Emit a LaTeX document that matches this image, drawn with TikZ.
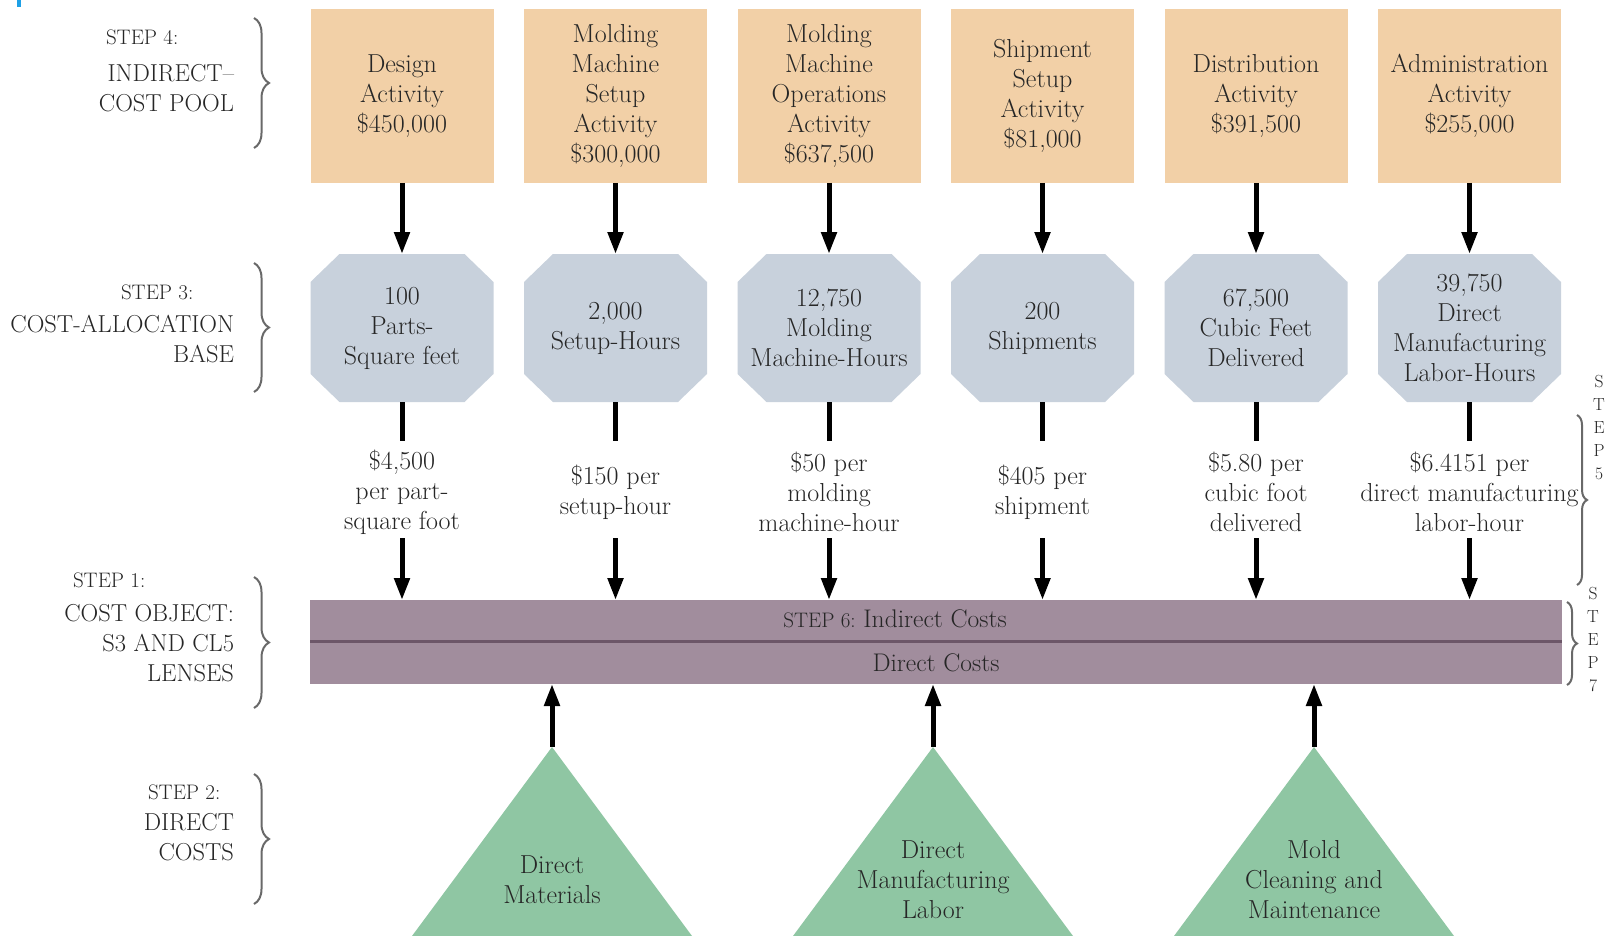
\documentclass[tikz,border=0pt]{standalone}
\usetikzlibrary{arrows.meta,decorations.pathreplacing,calc}
\definecolor{poolc}{RGB}{242,208,167}
\definecolor{basec}{RGB}{200,209,220}
\definecolor{barc}{RGB}{161,141,157}
\definecolor{divc}{RGB}{108,86,104}
\definecolor{trc}{RGB}{143,198,163}
\definecolor{txtc}{RGB}{38,38,38}
\definecolor{bracec}{RGB}{105,105,105}
\definecolor{markc}{RGB}{30,160,230}
\begin{document}
\begin{tikzpicture}[x=1pt,y=-1pt,
 every node/.style={text=txtc, inner sep=0pt, outer sep=0pt},
 body/.style={font=\fontsize{26}{30}\selectfont, align=center},
 poolbox/.style={body, fill=poolc, minimum width=183pt, minimum height=174pt},
 allocbox/.style={body, minimum width=183pt, minimum height=148pt,
   path picture={\fill[basec]
     ([xshift=29pt]path picture bounding box.north west) --
     ([xshift=-29pt]path picture bounding box.north east) --
     ([yshift=-28pt]path picture bounding box.north east) --
     ([yshift=28pt]path picture bounding box.south east) --
     ([xshift=-29pt]path picture bounding box.south east) --
     ([xshift=29pt]path picture bounding box.south west) --
     ([yshift=28pt]path picture bounding box.south west) --
     ([yshift=-28pt]path picture bounding box.north west) -- cycle;}},
 ratetext/.style={body},
 tritext/.style={body},
 leftlab/.style={font=\fontsize{24.5}{30}\selectfont, align=right, anchor=east},
 steplab/.style={font=\fontsize{21}{30}\selectfont, anchor=west},
 steplet/.style={font=\fontsize{17.5}{23}\selectfont, align=center},
 arr/.style={line width=5pt, -{Triangle[length=22pt,width=15pt]}},
 thickline/.style={line width=5pt},
 bracestyle/.style={bracec, line width=2pt, decorate},
]
\useasboundingbox (0,0) rectangle (1608,936);
\fill[white] (0,0) rectangle (1608,936);
\fill[markc] (17,0) rectangle (21,7);

% left labels
\node[steplab] (l4a) at (106,37) {STEP 4:};
\node[leftlab] (l4b) at (234,88) {INDIRECT--\\COST POOL};
\draw[bracestyle, decoration={brace,amplitude=15pt}] (254,18) -- (254,148);

\node[steplab] (l3a) at (121,292) {STEP 3:};
\node[leftlab] (l3b) at (234,339) {COST-ALLOCATION\\BASE};
\draw[bracestyle, decoration={brace,amplitude=15pt}] (254,263) -- (254,392);

\node[steplab] (l1a) at (73,580) {STEP 1:};
\node[leftlab] (l1b) at (234,643) {COST OBJECT:\\S3 AND CL5\\LENSES};
\draw[bracestyle, decoration={brace,amplitude=15pt}] (254,577) -- (254,708);

\node[steplab] (l2a) at (148,792) {STEP 2:};
\node[leftlab] (l2b) at (234,837) {DIRECT\\COSTS};
\draw[bracestyle, decoration={brace,amplitude=15pt}] (254,774) -- (254,904);

% pools
\node[poolbox] (p1) at (402,96) {Design\\Activity\\\$450,000};
\node[poolbox] (p2) at (615.5,96) {Molding\\Machine\\Setup\\Activity\\\$300,000};
\node[poolbox] (p3) at (829,96) {Molding\\Machine\\Operations\\Activity\\\$637,500};
\node[poolbox] (p4) at (1042.5,96) {Shipment\\Setup\\Activity\\\$81,000};
\node[poolbox] (p5) at (1256,96) {Distribution\\Activity\\\$391,500};
\node[poolbox] (p6) at (1469.5,96) {Administration\\Activity\\\$255,000};

% allocation bases
\node[allocbox] (a1) at (402,328) {100\\Parts-\\Square feet};
\node[allocbox] (a2) at (615.5,328) {2,000\\Setup-Hours};
\node[allocbox] (a3) at (829,328) {12,750\\Molding\\Machine-Hours};
\node[allocbox] (a4) at (1042.5,328) {200\\Shipments};
\node[allocbox] (a5) at (1256,328) {67,500\\Cubic Feet\\Delivered};
\node[allocbox] (a6) at (1469.5,328) {39,750\\Direct\\Manufacturing\\Labor-Hours};

% rates
\node[ratetext] (r1) at (402,492) {\$4,500\\per part-\\square foot};
\node[ratetext] (r2) at (615.5,492) {\$150 per\\setup-hour};
\node[ratetext] (r3) at (829,492) {\$50 per\\molding\\machine-hour};
\node[ratetext] (r4) at (1042.5,492) {\$405 per\\shipment};
\node[ratetext] (r5) at (1256,492) {\$5.80 per\\cubic foot\\delivered};
\node[ratetext] (r6) at (1469.5,492) {\$6.4151 per\\direct manufacturing\\labor-hour};

% cost object bar
\node[fill=barc, minimum width=1252pt, minimum height=84pt] (bar) at (936,642) {};
\draw[divc, line width=3pt] (bar.west |- 0,641) coordinate (dw) -- (bar.east |- 0,641) coordinate (de);
\node[font=\fontsize{25.5}{30}\selectfont] (ind) at (895,619) {{\fontsize{21}{30}\selectfont STEP 6:}\ Indirect Costs};
\node[font=\fontsize{25.5}{30}\selectfont] (dir) at (936,663) {Direct Costs};

\foreach \i/\x in {1/402,2/615.5,3/829,4/1042.5,5/1256,6/1469.5}{
  \coordinate (e\i) at (\x,441);
  \coordinate (s\i) at (\x,538);
  \draw[arr] (p\i) -- (a\i);
  \draw[thickline] (a\i) -- (e\i);
  \draw[arr] (s\i) -- (bar.north -| s\i);
}

% step 5 and 7
\draw[bracestyle, decoration={brace,amplitude=10pt}] (1577,415) -- (1577,585);
\node[steplet] (st5) at (1599,428) {S\\T\\E\\P\\5};
\draw[bracestyle, decoration={brace,amplitude=10pt}] (1567,602) -- (1567,685);
\node[steplet] (st7) at (1593,640) {S\\T\\E\\P\\7};

% direct cost triangles
\coordinate (t1) at (552,747);
\coordinate (t2) at (933,747);
\coordinate (t3) at (1314,747);
\fill[trc] (t1) -- (412,936) -- (692,936) -- cycle;
\fill[trc] (t2) -- (793,936) -- (1073,936) -- cycle;
\fill[trc] (t3) -- (1174,936) -- (1454,936) -- cycle;
\node[tritext] (d1) at (552,880) {Direct\\Materials};
\node[tritext] (d2) at (933,880) {Direct\\Manufacturing\\Labor};
\node[tritext] (d3) at (1314,880) {Mold\\Cleaning and\\Maintenance};
\foreach \i in {1,2,3}{
  \draw[arr] (t\i) -- (bar.south -| t\i);
}
\end{tikzpicture}
\end{document}
